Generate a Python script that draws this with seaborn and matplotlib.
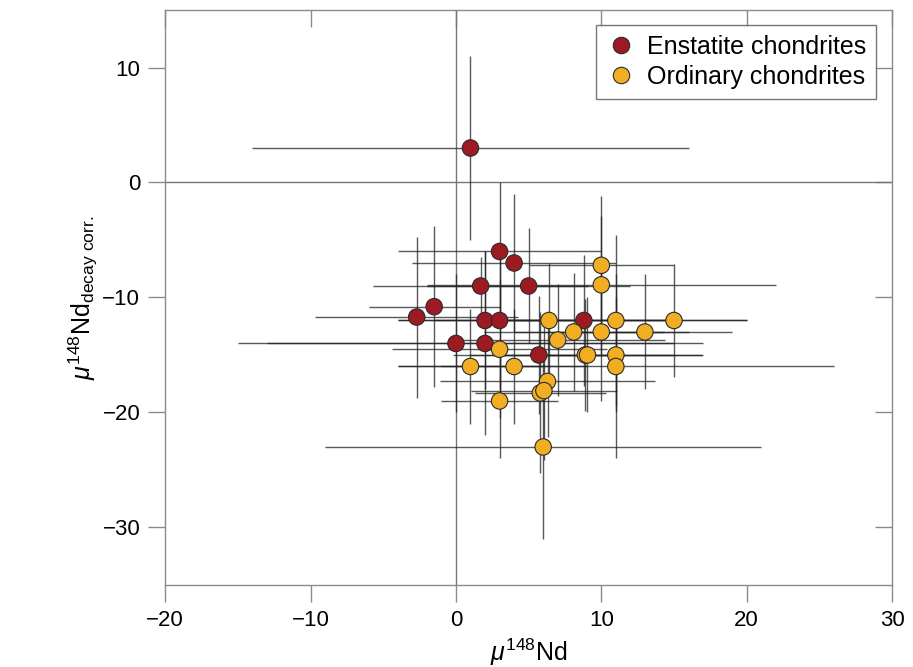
import matplotlib
matplotlib.use("Agg")
import matplotlib.pyplot as plt
import seaborn as sns
import pandas as pd
import numpy as np

# Enstatite chondrites
ec_x = [1, 3, 4, 1.7, 5, -1.5, -2.7, 2, 3, 8.8, 0, 2, 5.7]
ec_y = [3, -6, -7, -9, -9, -10.8, -11.7, -12, -12, -12, -14, -14, -15]
ec_xerr = [15, 7, 7, 7.4, 7, 4.5, 7, 6, 7, 6, 15, 15, 5.9]
ec_yerr = [8, 6, 6, 2.5, 5, 7, 7, 6, 6, 5.7, 6, 8, 5.1]

# Ordinary chondrites
oc_x = [10, 10, 6.4, 11, 15, 8.1, 10, 13, 7, 3, 8.9, 9.05, 11, 11, 1, 4, 6.3, 5.8, 6.05, 3, 6]
oc_y = [-7.2, -8.9, -12, -12, -12, -13, -13, -13, -13.7, -14.5, -15, -15, -15, -16, -16, -16,
        -17.3, -18.3, -18.1, -19, -23]
oc_xerr = [5, 12, 8, 9, 5, 6.2, 6, 6, 7.4, 7.4, 8, 6, 6, 15, 5, 5, 7.4, 4.5, 5, 4, 15]
oc_yerr = [6, 6, 5, 7.4, 4.9, 5.1, 6, 5, 4.9, 6, 4.9, 5, 5, 8, 5, 5, 4.8, 7, 6, 5, 8]

groups = ["Enstatite chondrites", "Ordinary chondrites"]
colors = {"Enstatite chondrites": "#9E1A22", "Ordinary chondrites": "#F2AE22"}

x_ticks = [-20, -10, 0, 10, 20, 30]
y_ticks = [-30, -20, -10, 0, 10]

df = pd.DataFrame({
    "x": ec_x + oc_x,
    "y": ec_y + oc_y,
    "xerr": ec_xerr + oc_xerr,
    "yerr": ec_yerr + oc_yerr,
    "group": [groups[0]] * len(ec_x) + [groups[1]] * len(oc_x),
})

sns.set_style("white")
plt.rcParams["font.family"] = ["Liberation Sans", "DejaVu Sans"]
plt.rcParams["mathtext.fontset"] = "custom"
plt.rcParams["mathtext.rm"] = "Liberation Sans"
plt.rcParams["mathtext.it"] = "Liberation Sans:italic"
plt.rcParams["text.color"] = "black"
plt.rcParams["axes.labelcolor"] = "black"
plt.rcParams["xtick.color"] = "black"
plt.rcParams["ytick.color"] = "black"

fig = plt.figure(figsize=(9.13, 6.67), dpi=100)
ax = fig.add_axes([0.181, 0.123, 0.796, 0.862])

ax.axhline(0, color="#777777", lw=1.0, zorder=1)
ax.axvline(0, color="#777777", lw=1.0, zorder=1)

ax.errorbar(df["x"], df["y"], xerr=df["xerr"], yerr=df["yerr"], fmt="none",
            ecolor="#222222", elinewidth=1.0, alpha=0.75, capsize=0, zorder=2)

sns.scatterplot(data=df, x="x", y="y", hue="group", palette=colors, hue_order=groups,
                s=140, edgecolor="#2a2a2a", linewidth=0.8, ax=ax, zorder=3)

ax.set_xlim(-20, 30)
ax.set_ylim(-35, 15)
ax.set_xticks(x_ticks)
ax.set_yticks(y_ticks)
ax.set_xticklabels([str(v).replace("-", "\u2212") for v in x_ticks])
ax.set_yticklabels([str(v).replace("-", "\u2212") for v in y_ticks])

spine_col = "#8a8a8a"
for s in ax.spines.values():
    s.set_color(spine_col)
    s.set_linewidth(1.0)

ax.tick_params(axis="both", which="major", labelsize=16, direction="out", length=12,
               width=1.0, color=spine_col, pad=6, bottom=True, left=True,
               labelcolor="black")
sec_x = ax.secondary_xaxis("top")
sec_x.set_xticks(x_ticks)
sec_x.set_xticklabels([])
sec_x.tick_params(direction="in", length=12, width=1.0, color=spine_col, top=True)
sec_x.spines["top"].set_visible(False)
sec_y = ax.secondary_yaxis("right")
sec_y.set_yticks(y_ticks)
sec_y.set_yticklabels([])
sec_y.tick_params(direction="in", length=12, width=1.0, color=spine_col, right=True)
sec_y.spines["right"].set_visible(False)

ax.set_xlabel(r"$\mathit{\mu}^{148}$Nd", fontsize=18, labelpad=4)
ax.set_ylabel(r"$\mathit{\mu}^{148}\mathrm{Nd}_{\mathrm{decay\ corr.}}$", fontsize=18, labelpad=2)

leg = ax.legend(loc="upper right", bbox_to_anchor=(0.978, 0.974), fontsize=18, frameon=True,
                fancybox=False, edgecolor="#555555", handlelength=1.2, handletextpad=0.44,
                borderpad=0.4, labelspacing=0.25, markerscale=1.0, borderaxespad=0)
leg.get_frame().set_linewidth(1.0)
for t in leg.get_texts():
    t.set_color("black")

fig.savefig("out.png", dpi=100)
